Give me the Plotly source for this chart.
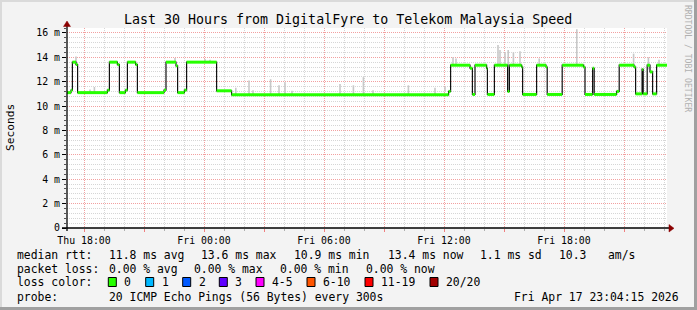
import plotly.graph_objects as go

# ---------------- data (hours since Thu 00:00, values in ms) ----------------
t_start = 17.15
t_end = 47.15

med_t = [17.15, 17.35, 17.42, 17.60, 17.68, 19.17, 19.27, 19.67, 19.77, 20.07,
         20.17, 20.58, 20.67, 22.00, 22.10, 22.60, 22.68, 23.02, 23.13, 24.63,
         25.38, 36.23, 36.33, 37.30, 37.42, 37.55, 38.13, 38.17, 38.52, 39.18,
         39.27, 39.88, 39.93, 40.63, 41.10, 41.16, 41.91, 42.97, 43.05, 43.43,
         43.51, 44.63, 44.76, 45.50, 45.58, 45.91, 45.96, 46.16, 46.30, 46.43,
         46.63]
med_v = [11.10, 11.30, 13.60, 13.40, 11.10, 11.30, 13.60, 13.40, 11.10, 11.30,
         13.60, 13.40, 11.10, 11.30, 13.60, 13.30, 11.10, 11.30, 13.60, 11.25,
         10.92, 11.20, 13.35, 13.10, 10.95, 13.35, 13.10, 10.95, 13.35, 11.20,
         13.35, 13.20, 10.95, 13.35, 13.20, 10.95, 13.35, 13.20, 10.95, 13.10,
         10.95, 11.20, 13.35, 13.20, 11.00, 13.00, 11.00, 13.35, 12.80, 11.00,
         13.35]

spike_t = [17.60, 18.30, 18.52, 22.55, 24.05, 24.30, 25.59, 26.25, 26.45, 27.33,
           27.75, 28.05, 28.40, 30.80, 31.47, 31.97, 32.45, 34.22, 35.55, 36.05,
           36.45, 36.60, 38.70, 38.80, 39.05, 39.21, 39.47, 39.80, 40.76, 42.64,
           45.48, 45.88, 46.22, 46.75]
spike_lo = [13.40, 11.10, 11.10, 13.60, 13.60, 13.60, 10.92, 10.92, 10.92, 10.92,
            10.92, 10.92, 10.92, 10.92, 10.92, 10.92, 10.92, 10.92, 10.92, 11.20,
            13.35, 13.35, 13.35, 13.35, 13.35, 11.20, 13.35, 13.35, 13.35, 13.35,
            13.20, 11.00, 13.00, 13.35]
spike_hi = [14.06, 11.35, 11.56, 13.95, 13.85, 13.80, 11.50, 12.10, 11.30, 12.20,
            11.70, 11.95, 11.25, 11.80, 11.70, 12.37, 11.30, 11.70, 11.50, 11.60,
            14.00, 13.90, 15.00, 14.60, 14.40, 14.60, 14.40, 14.50, 13.90, 16.30,
            14.30, 13.10, 14.00, 13.80]

y_tick_vals = [0, 2, 4, 6, 8, 10, 12, 14, 16]
y_tick_text = ["0", "2 m", "4 m", "6 m", "8 m", "10 m", "12 m", "14 m", "16 m"]
x_tick_vals = [18, 21, 24, 27, 30, 33, 36, 39, 42, 45]
x_tick_text = ["Thu 18:00", "", "Fri 00:00", "", "Fri 06:00", "", "Fri 12:00", "",
               "Fri 18:00", ""]

loss_labels = ["0", "1", "2", "3", "4-5", "6-10", "11-19", "20/20"]
loss_colors = ["#26ff00", "#00b8ff", "#0059ff", "#5e00ff", "#ff00ff", "#ff5500",
               "#ff0000", "#a10000"]

title_text = "Last 30 Hours from DigitalFyre to Telekom Malaysia Speed"
rtt_line = [("median rtt:", 16), ("11.8 ms avg", 107.7), ("13.6 ms max", 200),
            ("10.9 ms min", 293), ("13.4 ms now", 386.7), ("1.1 ms sd", 479),
            ("10.3", 558), ("am/s", 606.7)]
loss_line = [("packet loss:", 16), ("0.00 % avg", 107.7), ("0.00 % max", 193.3),
             ("0.00 % min", 279.3), ("0.00 % now", 365)]
loss_x = [108.3, 145.7, 182.7, 219.3, 256, 307, 365, 430]
probe_line = [("probe:", 16), ("20 ICMP Echo Pings (56 Bytes) every 300s", 107.7),
              ("Fri Apr 17 23:04:15 2026", 513.3)]

# ---------------- geometry helpers ----------------
W, H = 697, 310
L, R, T, B = 67, 667, 28, 228
MONO = "DejaVu Sans Mono"


def px(x):
    return (x - L) / (R - L)


def py(y):
    return (B - y) / (B - T)


fig = go.Figure()

# smoke spikes
sx, sy = [], []
for t, lo, hi in zip(spike_t, spike_lo, spike_hi):
    sx += [t, t, None]
    sy += [lo, hi, None]
fig.add_trace(go.Scatter(x=sx, y=sy, mode="lines",
                         line=dict(color="#c8c8c8", width=1.6),
                         hoverinfo="skip", showlegend=False))

# black median line with steps
fig.add_trace(go.Scatter(x=med_t + [t_end], y=med_v + [med_v[-1]], mode="lines",
                         line=dict(color="#111111", width=1.2, shape="hv"),
                         hoverinfo="skip", showlegend=False))

# green horizontal segments (loss 0)
gx, gy = [], []
bounds = med_t + [t_end]
for i, v in enumerate(med_v):
    gx += [bounds[i], bounds[i + 1], None]
    gy += [v, v, None]
fig.add_trace(go.Scatter(x=gx, y=gy, mode="lines",
                         line=dict(color=loss_colors[0], width=3),
                         hoverinfo="skip", showlegend=False))

shapes = []
# frame
shapes.append(dict(type="rect", xref="paper", yref="paper", x0=px(0), x1=px(2),
                   y0=py(0), y1=py(H), fillcolor="#dadada", line=dict(width=0), layer="below"))
shapes.append(dict(type="rect", xref="paper", yref="paper", x0=px(0), x1=px(W),
                   y0=py(0), y1=py(2), fillcolor="#dadada", line=dict(width=0), layer="below"))
shapes.append(dict(type="rect", xref="paper", yref="paper", x0=px(694), x1=px(W),
                   y0=py(0), y1=py(H), fillcolor="#a0a0a0", line=dict(width=0), layer="below"))
shapes.append(dict(type="rect", xref="paper", yref="paper", x0=px(0), x1=px(W),
                   y0=py(307), y1=py(H), fillcolor="#a0a0a0", line=dict(width=0), layer="below"))
# axes lines
shapes.append(dict(type="line", xref="paper", yref="paper", x0=px(62), x1=px(670),
                   y0=0, y1=0, line=dict(color="black", width=1.3)))
shapes.append(dict(type="line", xref="paper", yref="paper", x0=0, x1=0,
                   y0=py(231), y1=py(24), line=dict(color="black", width=1.3)))
# arrows
shapes.append(dict(type="path", xref="paper", yref="paper",
                   path="M %f,%f L %f,%f L %f,%f Z" % (px(669), py(224.5), px(674), py(228.3),
                                                       px(669), py(232)),
                   fillcolor="#8b0000", line=dict(color="#8b0000", width=0.5)))
shapes.append(dict(type="path", xref="paper", yref="paper",
                   path="M %f,%f L %f,%f L %f,%f Z" % (px(63.5), py(26.5), px(67), py(21),
                                                       px(70.5), py(26.5)),
                   fillcolor="#8b0000", line=dict(color="#8b0000", width=0.5)))
# loss color squares
for x0, c in zip(loss_x, loss_colors):
    shapes.append(dict(type="rect", xref="paper", yref="paper", x0=px(x0), x1=px(x0 + 8),
                       y0=py(286.5), y1=py(277.5), fillcolor=c,
                       line=dict(color="black", width=1)))

ann = []
ann.append(dict(text=title_text, x=px(348), y=py(19), xref="paper", yref="paper",
                showarrow=False, xanchor="center", yanchor="middle",
                font=dict(family=MONO, size=13.3, color="black")))
ann.append(dict(text="Seconds", x=px(10), y=py(128), xref="paper", yref="paper",
                showarrow=False, textangle=-90, xanchor="center", yanchor="middle",
                font=dict(family=MONO, size=11.2, color="black")))
ann.append(dict(text="RRDTOOL / TOBI OETIKER", x=px(688), y=py(58), xref="paper", yref="paper",
                showarrow=False, textangle=90, xanchor="center", yanchor="middle",
                font=dict(family=MONO, size=8.1, color="#b0b0b0")))


def add_row(items, yc):
    for txt, x in items:
        ann.append(dict(text=txt, x=px(x - 1), y=py(yc), xref="paper", yref="paper",
                        showarrow=False, xanchor="left", yanchor="middle",
                        font=dict(family=MONO, size=11.4, color="black")))


add_row(rtt_line, 254.5)
add_row(loss_line, 268.5)
add_row([("loss color:", 16)] + [(lab, x + 15) for lab, x in zip(loss_labels, loss_x)], 282.3)
add_row(probe_line, 296.5)

fig.update_layout(
    width=W, height=H,
    margin=dict(l=L, r=W - R, t=T, b=H - B, pad=0),
    paper_bgcolor="#f3f3f3", plot_bgcolor="white",
    showlegend=False,
    shapes=shapes, annotations=ann,
    xaxis=dict(range=[t_start, t_end], tickmode="array", tickvals=x_tick_vals,
               ticktext=x_tick_text, showgrid=True, gridcolor="#f2a0a0",
               griddash="1px,1px", gridwidth=1, zeroline=False, showline=False,
               ticks="outside", ticklen=3, tickcolor="#f08080", tickwidth=1,
               tickfont=dict(family=MONO, size=9.9, color="black"),
               minor=dict(dtick=1, tick0=0, showgrid=True, gridcolor="#d6d6d6",
                          griddash="1px,1px", ticks="outside", ticklen=2,
                          tickcolor="#b0b0b0")),
    yaxis=dict(range=[0, 16.4], tickmode="array", tickvals=y_tick_vals,
               ticktext=y_tick_text, showgrid=True, gridcolor="#f2a0a0",
               griddash="1px,1px", gridwidth=1, zeroline=False, showline=False,
               ticks="outside", ticklen=4, tickcolor="black", tickwidth=1,
               tickfont=dict(family=MONO, size=9.9, color="black"),
               minor=dict(dtick=0.4, tick0=0, showgrid=True, gridcolor="#d6d6d6",
                          griddash="1px,1px", ticks="outside", ticklen=2,
                          tickcolor="#555555")),
)

fig.write_html("out.html")
